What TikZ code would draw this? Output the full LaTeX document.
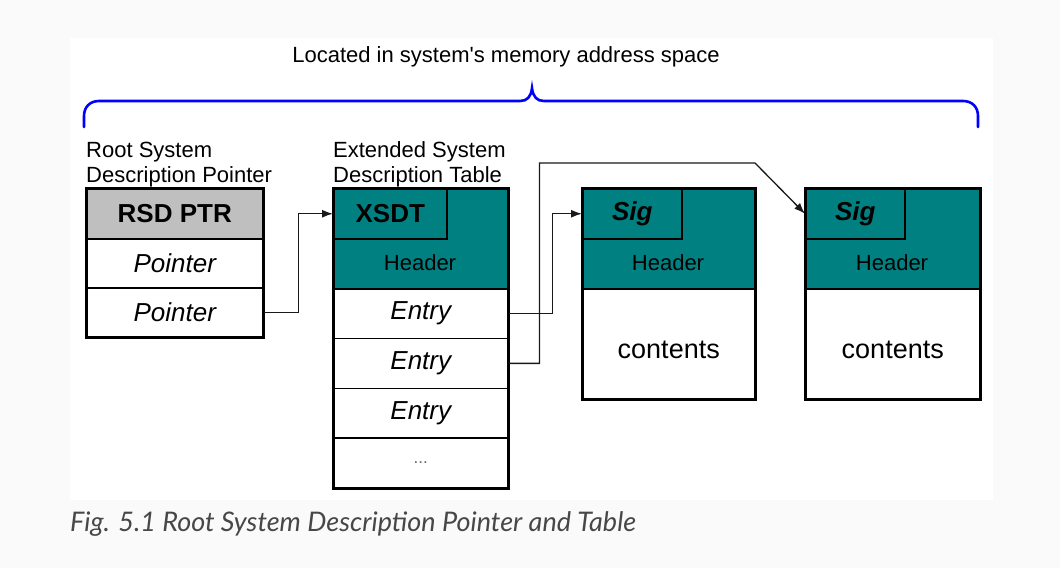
\documentclass[tikz,border=0pt]{standalone}
\usepackage{fontspec}
\setmainfont{Liberation Sans}
\newfontfamily\capfont{Lato}
\usetikzlibrary{arrows.meta}
\newcommand{\cellfont}{\fontsize{26}{30}\selectfont}
\newcommand{\labfont}{\fontsize{22}{25}\selectfont}
\newcommand{\hdrfont}{\fontsize{22}{24}\selectfont}
% a teal table header: name, x, y, width, signature width, signature
\newcommand{\sdthead}[6]{%
  \node[head, minimum width=#4] (#1) at (#2,#3) {};
  \node[sigbox, minimum width=#5] (#1sig) at (#2,#3) {#6};
  \node[font=\hdrfont, inner sep=0pt] (#1lab) at ({#2+#4/2},{#3+75}) {Header};
}
\colorlet{pagebg}{black!2}
\definecolor{hdrteal}{RGB}{0,128,128}
\colorlet{hdrgrey}{black!25}
\colorlet{bracecol}{blue}
\colorlet{captext}{black!72}
\tikzset{
  cell/.style={draw=black, line width=1.5pt, fill=white, anchor=north west, inner sep=0pt, font=\cellfont},
  body/.style={cell, minimum height=110, font=\fontsize{27}{30}\selectfont, text height=29.5pt, text depth=0pt},
  head/.style={draw=black, line width=1.5pt, fill=hdrteal, anchor=north west, inner sep=0pt, minimum height=100},
  sigbox/.style={draw=black, line width=1.5pt, anchor=north west, inner sep=0pt, minimum height=50, font=\cellfont\bfseries},
  frame/.style={draw=black, line width=3pt},
  lab/.style={anchor=south west, align=left, inner sep=0pt, font=\labfont},
  ptr/.style={draw=black!90, line width=1.3pt, -{Latex[length=11pt, width=8pt]}},
  brace/.style={draw=bracecol, line width=2.6pt, line cap=round}
}

\begin{document}
\begin{tikzpicture}[x=1pt, y=-1pt]
  \useasboundingbox (0,0) rectangle (1060,568);
  \fill[pagebg] (0,0) rectangle (1060,568);
  \fill[white] (70,38) rectangle (993,500);

  % brace over everything
  \node[anchor=base, inner sep=0pt, font=\labfont] (title) at (506,62) {Located in system\textquotesingle s memory address space};
  \draw[brace] (84,127) -- (84,116) .. controls (84,107) and (90,101) .. (99,101) -- (520,101)
    .. controls (527,101) and (531,97) .. (532,88)
    .. controls (533,97) and (537,101) .. (544,101) -- (963,101)
    .. controls (972,101) and (978,107) .. (978,116) -- (978,127);

  \node[lab] (rsdlab) at (86,187) {Root System\\Description Pointer};
  \node[lab] (xsdtlab) at (333,187) {Extended System\\Description Table};

  % root pointer
  \node[cell, fill=hdrgrey, minimum width=176, minimum height=50, font=\cellfont\bfseries] (rsd0) at (86,188) {RSD PTR};
  \foreach \r in {1,2}
    \node[cell, minimum width=176, minimum height=49, font=\cellfont\itshape] (rsd\r) at (86,{188+50+49*(\r-1)}) {Pointer};

  % extended table
  \sdthead{xsdt}{333}{188}{174}{113}{XSDT}
  \foreach \r in {1,2,3}
    \node[cell, minimum width=174, minimum height=49.75, font=\cellfont\itshape] (ent\r) at (333,{288+49.75*(\r-1)}) {Entry};
  \node[cell, minimum width=174, minimum height=49.75, font=\fontsize{17}{18}\selectfont, text=black!60] (ent4) at (333,{288+49.75*3}) {...};

  % the tables pointed to
  \sdthead{tabA}{582}{188}{172}{99}{\itshape Sig}
  \node[body, minimum width=172] (tabAbody) at (582,288) {contents};
  \sdthead{tabB}{805}{188}{174}{99}{\itshape Sig}
  \node[body, minimum width=174] (tabBbody) at (805,288) {contents};

  \foreach \a/\b in {rsd0/rsd2, xsdt/ent4, tabA/tabAbody, tabB/tabBbody}
    \draw[frame] (\a.north west) rectangle (\b.south east);

  % pointers
  \coordinate (jog) at (755,163);
  \draw[ptr] (rsd2.east) -- ++(35,0) |- (xsdtsig.west);
  \draw[ptr] (ent1.east) -- ++(44,0) |- (tabAsig.west);
  \draw[ptr] (ent2.east) -- ++(31,0) |- (jog) -- (tabBsig.west);

  \node[anchor=base west, inner sep=0pt, text=captext, font=\capfont\itshape\fontsize{27}{30}\selectfont] (caption) at (70,531) {Fig. 5.1 Root System Description Pointer and Table};
\end{tikzpicture}
\end{document}
